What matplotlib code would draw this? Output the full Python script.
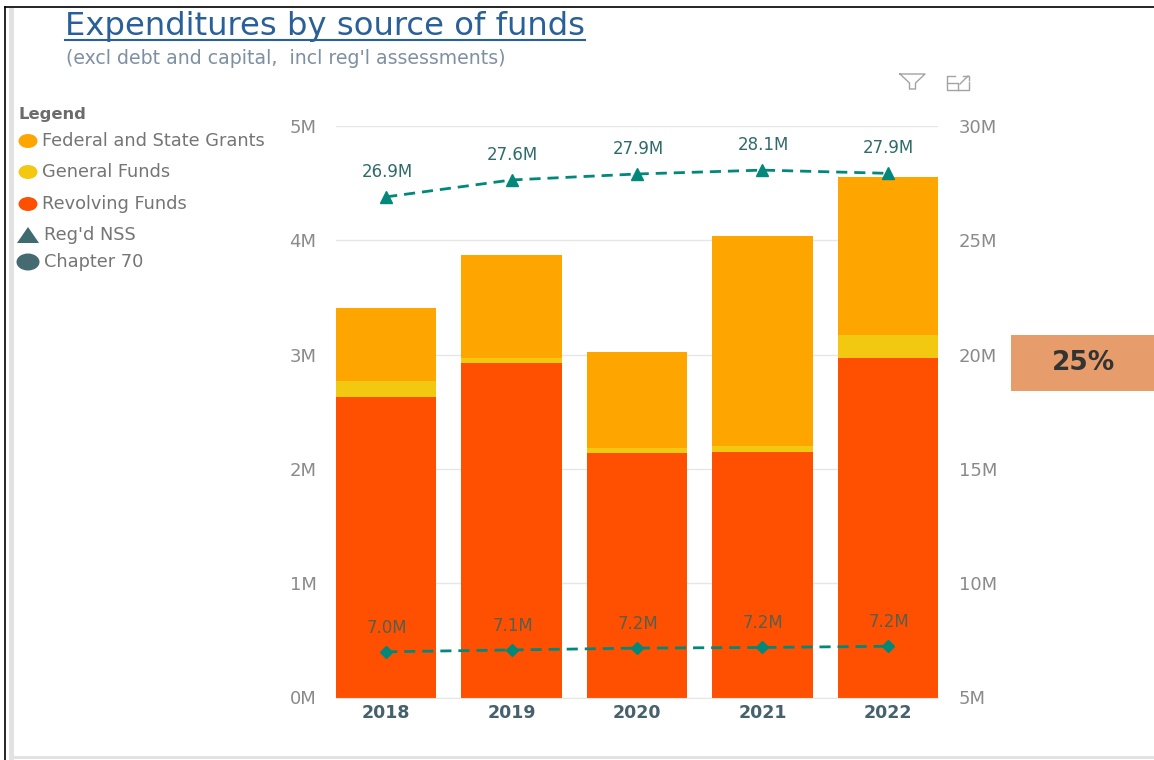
import matplotlib
matplotlib.use("Agg")
from matplotlib import pyplot as plt
from matplotlib.patches import Rectangle, Ellipse, Polygon
from matplotlib.ticker import FuncFormatter

plt.rcParams['font.family'] = ['DejaVu Sans']

years = ["2018", "2019", "2020", "2021", "2022"]
revolving = [2.63, 2.93, 2.14, 2.15, 2.97]
general = [0.14, 0.04, 0.04, 0.05, 0.20]
grants = [0.64, 0.90, 0.84, 1.84, 1.38]
regd_nss = [26.9, 27.64, 27.9, 28.07, 27.93]
chapter70 = [7.0, 7.08, 7.16, 7.19, 7.24]
legend_labels = ["Federal and State Grants", "General Funds", "Revolving Funds", "Reg'd NSS", "Chapter 70"]

W, H = 1154, 760
ORANGE = "#ffa500"
YELLOW = "#f2c811"
RED = "#fe5000"
TEAL = "#01887a"
LABEL = "#2f6b6b"
TICK = "#8a8a8a"

fig = plt.figure(figsize=(W/100, H/100), dpi=100, facecolor="white")

# plot area in pixels: x 336-938, y 126-697.5
ax = fig.add_axes([336/W, 1-697.5/H, (938-336)/W, (697.5-126)/H])
x = list(range(len(years)))
bottom2 = [a+b for a, b in zip(revolving, general)]
ax.bar(x, revolving, 0.8, color=RED, zorder=2)
ax.bar(x, general, 0.8, bottom=revolving, color=YELLOW, zorder=2)
ax.bar(x, grants, 0.8, bottom=bottom2, color=ORANGE, zorder=2)
ax.set_xlim(-0.4, 4.4)
ax.set_ylim(0, 5)
ax.set_yticks(range(6))
ax.yaxis.set_major_formatter(FuncFormatter(lambda v, p: f"{v:.0f}M"))
ax.grid(axis="y", color="#e6e6e6", lw=1, zorder=0)
ax.set_xticks(x, years, fontsize=12.5, fontweight="bold", color="#46606e")
ax.tick_params(axis="x", length=0, pad=5)
ax.tick_params(axis="y", length=0, pad=14, labelsize=13, labelcolor=TICK)
for s in ax.spines.values():
    s.set_visible(False)
ax.spines["bottom"].set_visible(True)
ax.spines["bottom"].set_color("#e6e6e6")

ax2 = ax.twinx()
ax2.set_ylim(5, 30)
ax2.set_yticks([5, 10, 15, 20, 25, 30])
ax2.yaxis.set_major_formatter(FuncFormatter(lambda v, p: f"{v:.0f}M"))
ax2.tick_params(axis="y", length=0, pad=15, labelsize=13, labelcolor=TICK)
for s in ax2.spines.values():
    s.set_visible(False)
ax2.plot(x, regd_nss, color=TEAL, lw=2, dashes=(4, 2.5), marker="^", ms=9, clip_on=False)
ax2.plot(x, chapter70, color=TEAL, lw=2, dashes=(4, 2.5), marker="D", ms=6.5, clip_on=False)
for i in x:
    ax2.annotate(f"{regd_nss[i]:.1f}M", (i, regd_nss[i]), xytext=(1, 16), textcoords="offset pixels",
                 ha="center", va="bottom", fontsize=12, color=LABEL)
    ax2.annotate(f"{chapter70[i]:.1f}M", (i, chapter70[i]), xytext=(1, 15), textcoords="offset pixels",
                 ha="center", va="bottom", fontsize=12, color="#555f50")

# overlay in pixel coordinates for the report chrome
ov = fig.add_axes([0, 0, 1, 1], zorder=5)
ov.set_xlim(0, W)
ov.set_ylim(H, 0)
ov.axis("off")
ov.plot([5, W], [7, 7], color="black", lw=1.2)
ov.plot([5, 5], [7, H], color="black", lw=1.2)
ov.add_patch(Rectangle((9, 8), 5, H-8, color="#e2e2e2", lw=0))
ov.add_patch(Rectangle((9, 756), W-9, 3, color="#e2e2e2", lw=0))

ov.text(65, 27, "Expenditures by source of funds", fontsize=23.2, color="#2a6099", va="center", ha="left")
ov.plot([65, 585], [40, 40], color="#2a6099", lw=1.5)
ov.text(66, 58, "(excl debt and capital,  incl reg'l assessments)", fontsize=13.6, color="#7f90a3", va="center", ha="left")

ov.text(19, 115, "Legend", fontsize=11.8, fontweight="bold", color="#6b6b6b", va="center")
leg_y = [141, 172, 204, 235, 262]
leg_x = [42, 42, 42, 44, 44]
for lab, y, tx in zip(legend_labels, leg_y, leg_x):
    ov.text(tx, y, lab, fontsize=12.8, color="#757575", va="center", ha="left")
ov.add_patch(Ellipse((28, 141), 19, 14, color=ORANGE, lw=0))
ov.add_patch(Ellipse((28, 172), 19, 14, color=YELLOW, lw=0))
ov.add_patch(Ellipse((28, 204), 19, 14, color=RED, lw=0))
ov.add_patch(Polygon([(17, 243), (39, 243), (28, 227)], color="#3e6b70", lw=0))
ov.add_patch(Ellipse((28, 262), 23, 17, color="#456a72", lw=0))

# 25% box
ov.add_patch(Rectangle((1011, 335), 143, 56, color="#e69d6b", lw=0))
ov.text(1083, 363, "25%", fontsize=19, fontweight="bold", color="#333333", ha="center", va="center")

# filter and expand icons
ICON = "#a3a3a3"
ov.plot([900, 925, 915.5, 915.5, 909.5, 909.5, 900], [74, 74, 83, 89, 89, 83, 74], color=ICON, lw=1)
ov.plot([955, 947, 947, 969, 969], [76, 76, 90, 90, 82], color=ICON, lw=1)
ov.plot([947, 958, 958], [83, 83, 90], color=ICON, lw=1)
ov.plot([960, 968], [84, 76], color=ICON, lw=1)
ov.plot([963, 969, 969], [76, 76, 80], color=ICON, lw=1)

fig.savefig("out.png", dpi=100)
